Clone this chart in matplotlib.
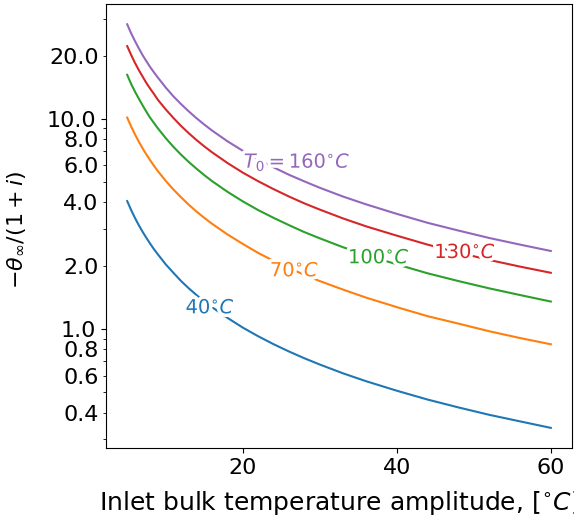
import matplotlib
matplotlib.use("Agg")
import matplotlib.pyplot as plt
import matplotlib.patheffects as pe

x = [5, 5.5, 6, 6.5, 7, 7.5, 8, 8.5, 9, 10, 11, 12, 13, 14, 15, 16, 18, 20, 22, 24,
     26, 28, 30, 33, 36, 40, 44, 48, 52, 56, 60]

t40 = [4.06, 3.69, 3.38, 3.12, 2.90, 2.71, 2.54, 2.39, 2.26, 2.03, 1.85, 1.69, 1.56,
       1.45, 1.35, 1.27, 1.13, 1.015, 0.923, 0.846, 0.781, 0.725, 0.677, 0.615,
       0.564, 0.508, 0.461, 0.423, 0.390, 0.363, 0.338]
t70 = [10.14, 9.22, 8.45, 7.80, 7.24, 6.76, 6.34, 5.96, 5.63, 5.07, 4.61, 4.23, 3.90,
       3.62, 3.38, 3.17, 2.82, 2.54, 2.30, 2.11, 1.95, 1.81, 1.69, 1.54, 1.41, 1.27,
       1.15, 1.06, 0.975, 0.905, 0.845]
t100 = [16.2, 14.7, 13.5, 12.5, 11.6, 10.8, 10.1, 9.53, 9.0, 8.1, 7.36, 6.75, 6.23,
        5.79, 5.4, 5.06, 4.5, 4.05, 3.68, 3.38, 3.12, 2.89, 2.7, 2.45, 2.25, 2.03,
        1.84, 1.69, 1.56, 1.45, 1.35]
t130 = [22.2, 20.2, 18.5, 17.1, 15.9, 14.8, 13.9, 13.1, 12.3, 11.1, 10.1, 9.25, 8.54,
        7.93, 7.4, 6.94, 6.17, 5.55, 5.05, 4.63, 4.27, 3.96, 3.7, 3.36, 3.08, 2.78,
        2.52, 2.31, 2.13, 1.98, 1.85]
t160 = [28.2, 25.6, 23.5, 21.7, 20.1, 18.8, 17.6, 16.6, 15.7, 14.1, 12.8, 11.75,
        10.85, 10.07, 9.4, 8.81, 7.83, 7.05, 6.41, 5.88, 5.42, 5.04, 4.7, 4.27, 3.92,
        3.53, 3.2, 2.94, 2.71, 2.52, 2.35]

series = [t40, t70, t100, t130, t160]
labels = [r"40$^{\circ}C$", r"70$^{\circ}C$", r"100$^{\circ}C$", r"130$^{\circ}C$",
          r"$T_0 = 160^{\circ}C$"]
colors = ["C0", "C1", "C2", "C3", "C4"]
label_pos = [(15.8, 1.26), (26.75, 1.89), (37.7, 2.18), (48.9, 2.31), (27.1, 6.2)]

major_ticks = [1.0, 10.0]
major_labels = ["1.0", "10.0"]
minor_ticks = [0.3, 0.4, 0.5, 0.6, 0.7, 0.8, 0.9, 2, 3, 4, 5, 6, 7, 8, 9, 20, 30]
minor_labels = ["", "0.4", "", "0.6", "", "0.8", "", "2.0", "", "4.0", "", "6.0", "",
                "8.0", "", "20.0", ""]

fig = plt.figure(figsize=(5.74, 5.15), dpi=100)
ax = fig.add_axes([0.1847, 0.130, 0.8118, 0.862])

for ys, c in zip(series, colors):
    ax.plot(x, ys, color=c, lw=1.5)

ax.set_yscale("log")

for (lx, ly), lab, c in zip(label_pos, labels, colors):
    ax.text(lx, ly, lab, color=c, fontsize=14, ha="center", va="center", zorder=5,
            path_effects=[pe.withStroke(linewidth=5, foreground="white")])

ax.set_yticks(major_ticks)
ax.set_yticklabels(major_labels)
ax.set_yticks(minor_ticks, minor=True)
ax.set_yticklabels(minor_labels, minor=True)
ax.set_xticks([20, 40, 60])
ax.tick_params(axis="both", which="both", labelsize=16)

fig.text(339 / 574, 1 - 510 / 515, r"Inlet bulk temperature amplitude, [$^{\circ}C$]",
         fontsize=18, ha="center", va="baseline")
fig.text(17 / 574, 1 - 230 / 515, r"$-\theta_{\infty}/(1+i)$", fontsize=16,
         rotation=90, ha="center", va="center")

fig.savefig("out.png", dpi=100)
